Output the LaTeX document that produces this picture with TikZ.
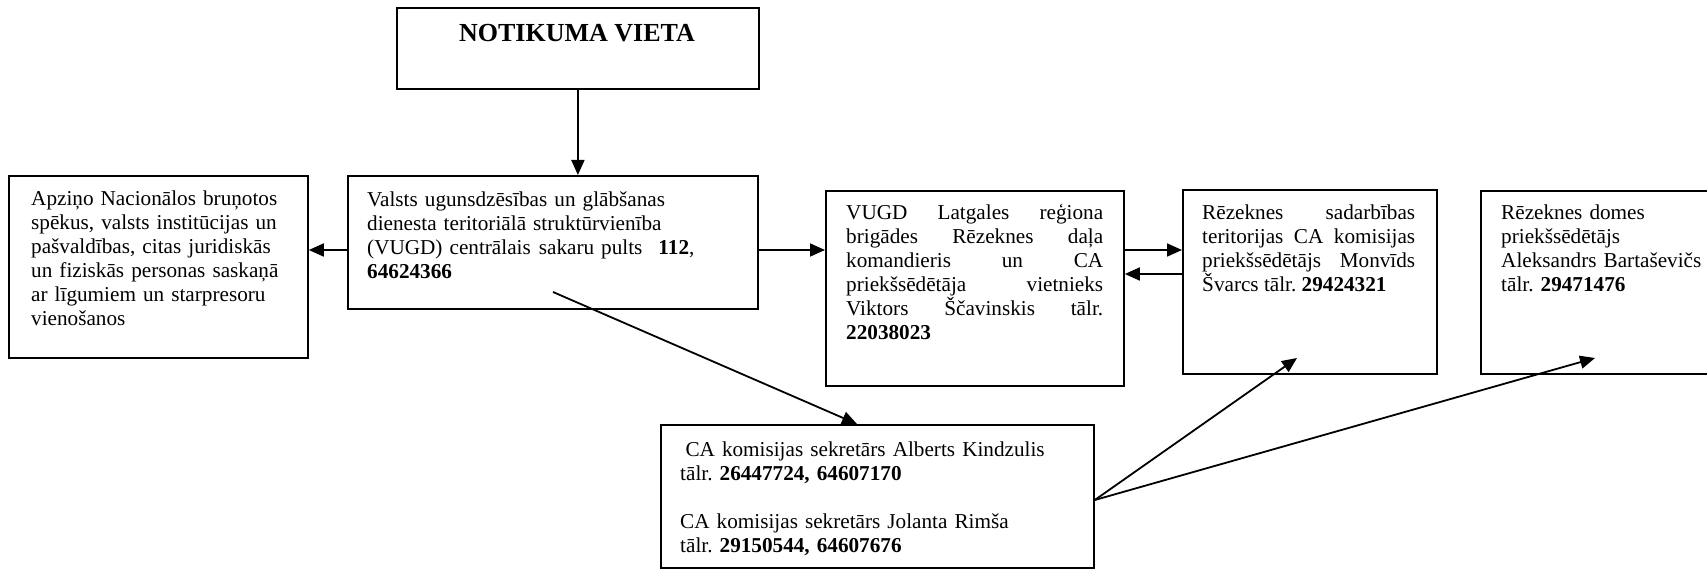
\documentclass[tikz,border=0pt]{standalone}
\usepackage{fontspec}
\setmainfont{Liberation Serif}
\usetikzlibrary{arrows.meta}
\hyphenpenalty=10000
\exhyphenpenalty=10000
\tolerance=10000
\frenchspacing
\begin{document}
\begin{tikzpicture}[x=1pt,y=-1pt,
  box/.style={draw, line width=1.8pt, inner sep=0pt, anchor=north west},
  txt/.style={inner sep=0pt, anchor=base west, font=\fontsize{21.2pt}{24pt}\selectfont\frenchspacing},
  arr/.style={line width=1.8pt, -{Triangle[length=15pt,width=13pt]}}]
\useasboundingbox (0,0) rectangle (1707,569);
\fill[white] (0,0) rectangle (1707,569);

% boxes
\node[box, minimum width=362pt, minimum height=81pt] (top) at (396,7) {};
\node[inner sep=0pt, anchor=base, font=\fontsize{26pt}{30pt}\selectfont\bfseries] (topT) at (577,42) {NOTIKUMA VIETA};

\node[box, minimum width=299pt, minimum height=182pt] (left) at (8,175) {};
\node[txt, text width=270pt, align=left] (leftT) at (31,206) {Apziņo Nacionālos bruņotos\\ spēkus, valsts institūcijas un\\ pašvaldības, citas juridiskās\\ un fiziskās personas saskaņā\\ ar līgumiem un starpresoru\\ vienošanos};

\node[box, minimum width=410pt, minimum height=133pt] (central) at (347,175) {};
\node[txt, text width=385pt, align=left] (centralT) at (367,207) {Valsts ugunsdzēsības un glābšanas\\ dienesta teritoriālā struktūrvienība\\ (VUGD) centrālais\hspace{8pt}sakaru pults\hspace{16pt}\textbf{112},\\ \textbf{64624366}};

\node[box, minimum width=298pt, minimum height=195pt] (vugd) at (825,190) {};
\node[txt, text width=257pt, align=justify] (vugdT) at (846,220) {VUGD Latgales reģiona\linebreak brigādes Rēzeknes daļa\linebreak komandieris un CA\linebreak priekšsēdētāja vietnieks\linebreak Viktors Ščavinskis tālr.\linebreak \textbf{22038023}};

\node[box, minimum width=254pt, minimum height=184pt] (sadar) at (1182,189) {};
\node[txt, text width=213pt, align=justify] (sadarT) at (1202,220) {Rēzeknes sadarbības\linebreak teritorijas CA komisijas\linebreak priekšsēdētājs Monvīds\linebreak Švarcs tālr. \textbf{29424321}};

\node[box, minimum width=260pt, minimum height=183pt] (domes) at (1480,190) {};
\node[txt, text width=220pt, align=left] (domesT) at (1501,220) {Rēzeknes domes\\ priekšsēdētājs\\ Aleksandrs Bartaševičs\\ tālr. \textbf{29471476}};

\node[box, minimum width=433pt, minimum height=143pt] (bot) at (660,424) {};
\node[txt, text width=410pt, align=left] (botT) at (680,456) {\hspace*{5.3pt}CA komisijas sekretārs Alberts Kindzulis\\ tālr. \textbf{26447724, 64607170}\\ \mbox{}\\ CA komisijas sekretārs Jolanta Rimša\\ tālr. \textbf{29150544, 64607676}};

% helper coordinates
\coordinate (lvlA) at (0,250);
\coordinate (lvlB) at (0,274);
\coordinate (lvlC) at (0,500);
\coordinate (s1) at (553,292);
\coordinate (t1) at (1297,358);
\coordinate (t2) at (1595,358);

% connectors
\draw[arr] (top.south) -- (top.south |- central.north);
\draw[arr] (central.west |- lvlA) -- (left.east |- lvlA);
\draw[arr] (central.east |- lvlA) -- (vugd.west |- lvlA);
\draw[arr] (vugd.east |- lvlA) -- (sadar.west |- lvlA);
\draw[arr] (sadar.west |- lvlB) -- (vugd.east |- lvlB);
\draw[arr] (s1) -- ([xshift=197pt]bot.north west);
\draw[arr] (bot.east |- lvlC) -- (t1);
\draw[arr] (bot.east |- lvlC) -- (t2);
\end{tikzpicture}
\end{document}
